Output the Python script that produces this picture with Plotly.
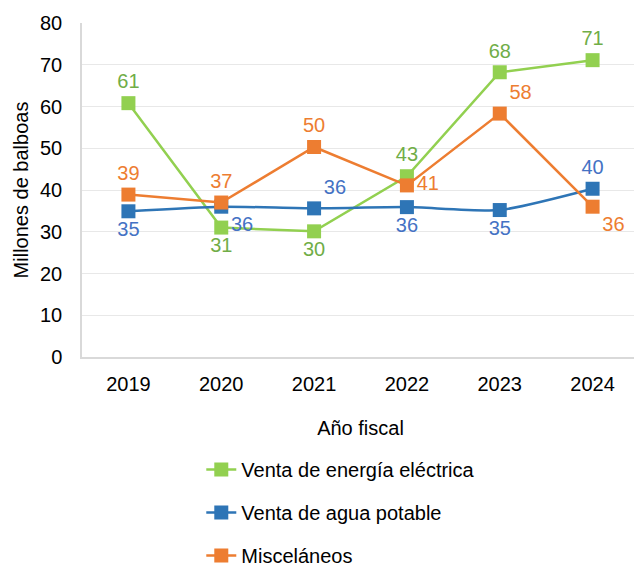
import plotly.graph_objects as go

years = ["2019", "2020", "2021", "2022", "2023", "2024"]
energia = [60.8, 31.0, 30.1, 43.3, 68.2, 71.1]
agua = [34.9, 36.0, 35.6, 35.9, 35.2, 40.3]
misc = [38.9, 37.0, 50.3, 41.1, 58.3, 36.0]

names = ["Venta de energía eléctrica", "Venta de agua potable", "Misceláneos"]
line_colors = ["#92D050", "#2E75B6", "#ED7D31"]
label_colors = ["#70AD47", "#4472C4", "#ED7D31"]

pos_energia = ["top center", "bottom center", "bottom center", "top center", "top center", "top center"]
pos_agua = ["bottom center", "bottom right", "top right", "bottom center", "bottom center", "top center"]
pos_misc = ["top center", "top center", "top center", "middle right", "top right", "bottom right"]

font = "Liberation Sans, Arial, sans-serif"

fig = go.Figure()
series = [energia, agua, misc]
positions = [pos_energia, pos_agua, pos_misc]
shapes = ["linear", "spline", "linear"]
for i in range(3):
    fig.add_trace(go.Scatter(
        x=years, y=series[i], name=names[i],
        mode="lines+markers+text",
        line=dict(color=line_colors[i], width=2.5, shape=shapes[i], smoothing=0.6),
        marker=dict(symbol="square", size=14, color=line_colors[i]),
        texttemplate="%{y:.0f}",
        textposition=positions[i],
        textfont=dict(color=label_colors[i], size=20, family=font),
        legendgroup=str(i),
        cliponaxis=False,
    ))

# page has an 8px body margin, so the figure is sized to fit the window
W, H = 634, 559
L, R, T, B = 73.5, 2.5, 14.7, 210
plot_h = H - T - B
plot_w = W - L - R

fig.update_layout(
    width=W, height=H,
    margin=dict(l=L, r=R, t=T, b=B, autoexpand=False),
    plot_bgcolor="white", paper_bgcolor="white",
    font=dict(family=font, size=20, color="#000000"),
    showlegend=True,
    legend=dict(
        orientation="v",
        x=(193 - L) / plot_w, xanchor="left",
        y=((H - B) - 442) / plot_h, yanchor="top",
        font=dict(size=20, family=font), tracegroupgap=14,
        bgcolor="rgba(0,0,0,0)",
    ),
    xaxis=dict(
        type="category", range=[-0.5, len(years) - 0.5],
        showline=True, linecolor="#d9d9d9", linewidth=1.5,
        showgrid=False, ticks="", tickfont=dict(size=20), automargin=False,
        ticklabelstandoff=8,
        title=dict(text="Año fiscal", font=dict(size=20), standoff=27),
    ),
    yaxis=dict(
        range=[0, 80], dtick=10, showline=True, linecolor="#d9d9d9", linewidth=1.5,
        showgrid=True, gridcolor="#e8e8e8", gridwidth=1, zeroline=False,
        ticks="", tickfont=dict(size=20), automargin=False,
        ticklabelstandoff=14,
        title=dict(text="Millones de balboas", font=dict(size=20), standoff=6),
    ),
)

fig.write_html("out.html")
